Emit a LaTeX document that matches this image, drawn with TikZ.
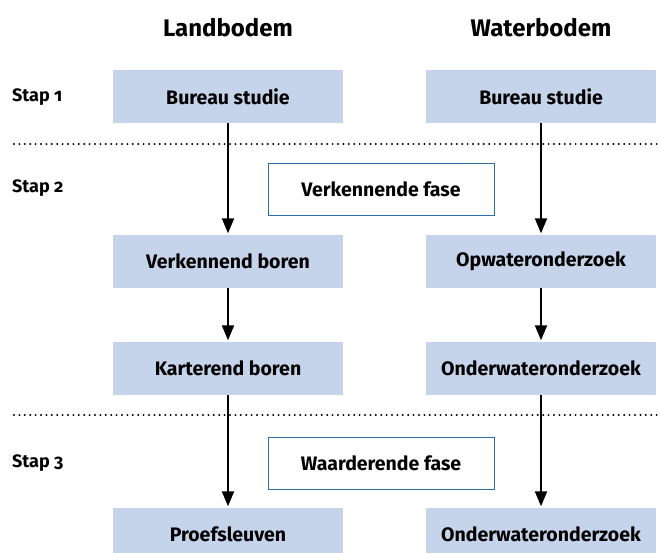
\documentclass[tikz,border=0pt]{standalone}
\usepackage{fontspec}
\setmainfont{Fira Sans}[Numbers=OldStyle]
\usetikzlibrary{arrows.meta}
\definecolor{boxblue}{HTML}{C5D3EB}
\definecolor{lineblue}{HTML}{2A6EAE}
\tikzset{
  stepbox/.style={fill=boxblue, minimum width=230pt, minimum height=53pt, inner sep=0pt, font=\bfseries\fontsize{19.5}{22}\selectfont},
  phasebox/.style={draw=lineblue, line width=1pt, fill=white, minimum width=226pt, minimum height=52pt, inner sep=0pt, font=\bfseries\fontsize{19.5}{22}\selectfont},
  head/.style={font=\bfseries\fontsize{24}{28}\selectfont},
  steplabel/.style={anchor=west, inner sep=0pt, font=\bfseries\fontsize{18}{22}\selectfont},
  flow/.style={-{Triangle[length=15pt,width=12pt]}, line width=2pt, shorten >=1.5pt},
  sep/.style={line width=2.2pt, dash pattern=on 0pt off 5.4pt, line cap=round}
}
\begin{document}
\begin{tikzpicture}[x=1pt,y=-1pt]
\useasboundingbox (0,0) rectangle (660,552);
\node[head] (hl) at (228,28) {Landbodem};
\node[head] (hw) at (541,28) {Waterbodem};
\node[steplabel] (s1) at (12,97) {Stap 1};
\node[steplabel] (s2) at (12,188) {Stap 2};
\node[steplabel] (s3) at (12,463) {Stap 3};
\coordinate (d1a) at (14,144);
\coordinate (d1b) at (657,144);
\coordinate (d2a) at (14,415);
\coordinate (d2b) at (657,415);
\draw[sep] (d1a) -- (d1b);
\draw[sep] (d2a) -- (d2b);
\node[stepbox] (l1) at (228,96.5) {Bureau studie};
\node[stepbox] (w1) at (541,96.5) {Bureau studie};
\node[stepbox] (l2) at (228,261.5) {Verkennend boren};
\node[stepbox] (w2) at (541,261.5) {Opwateronderzoek};
\node[stepbox] (l3) at (228,368.5) {Karterend boren};
\node[stepbox] (w3) at (541,368.5) {Onderwateronderzoek};
\node[stepbox] (l4) at (228,534.5) {Proefsleuven};
\node[stepbox] (w4) at (541,534.5) {Onderwateronderzoek};
\node[phasebox] (p1) at (381,189) {Verkennende fase};
\node[phasebox] (p2) at (381,463) {Waarderende fase};
\draw[flow] (l1) -- (l2);
\draw[flow] (l2) -- (l3);
\draw[flow] (l3) -- (l4);
\draw[flow] (w1) -- (w2);
\draw[flow] (w2) -- (w3);
\draw[flow] (w3) -- (w4);
\end{tikzpicture}
\end{document}
